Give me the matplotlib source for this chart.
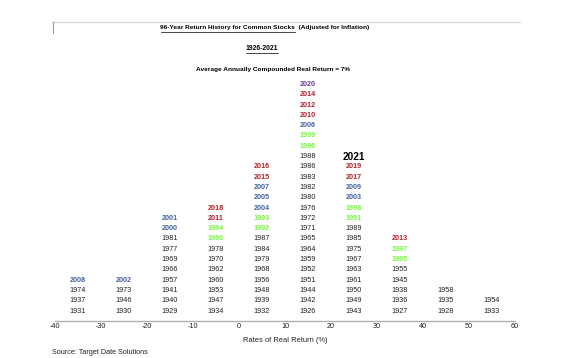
import matplotlib
matplotlib.use("Agg")
import matplotlib.pyplot as plt
from matplotlib.lines import Line2D

plt.rcParams['font.family'] = ['Liberation Sans', 'DejaVu Sans']
plt.rcParams['axes.unicode_minus'] = False

# ---- data ----
bin_edges = [-40, -30, -20, -10, 0, 10, 20, 30, 40, 50, 60]
bin_centers = [-35, -25, -15, -5, 5, 15, 25, 35, 45, 55]
years_m40_m30 = [1931, 1937, 1974, 2008]
years_m30_m20 = [1930, 1946, 1973, 2002]
years_m20_m10 = [1929, 1940, 1941, 1957, 1966, 1969, 1977, 1981, 2000, 2001]
years_m10_0 = [1934, 1947, 1953, 1960, 1962, 1970, 1978, 1990, 1994, 2011, 2018]
years_0_10 = [1932, 1939, 1948, 1956, 1968, 1979, 1984, 1987, 1992, 1993,
              2004, 2005, 2007, 2015, 2016]
years_10_20 = [1926, 1942, 1944, 1951, 1952, 1959, 1964, 1965, 1971, 1972,
               1976, 1980, 1982, 1983, 1986, 1988, 1996, 1999, 2006, 2010,
               2012, 2014, 2020]
years_20_30 = [1943, 1949, 1950, 1961, 1963, 1967, 1975, 1985, 1989, 1991,
               1998, 2003, 2009, 2017, 2019, 2021]
years_30_40 = [1927, 1936, 1938, 1945, 1955, 1995, 1997, 2013]
years_40_50 = [1928, 1935, 1958]
years_50_60 = [1933, 1954]
columns = [years_m40_m30, years_m30_m20, years_m20_m10, years_m10_0, years_0_10,
           years_10_20, years_20_30, years_30_40, years_40_50, years_50_60]
current_year = 2021

title1a = "96-Year Return History for Common Stocks"
title1b = "  (Adjusted for Inflation)"
title2 = "1926-2021"
title3 = "Average Annually Compounded Real Return = 7%"
xlabel = "Rates of Real Return (%)"
source = "Source: Target Date Solutions"

decade_colors = {1990: '#80f050', 2000: '#45659c', 2010: '#b0232b', 2020: '#6a3d9a'}

W, H = 570, 358
fig = plt.figure(figsize=(W / 100, H / 100), dpi=100)

def fx(px):
    return px / W

def fy(py):
    return 1 - py / H

ax_left, ax_right, ax_bottom, ax_top = 55, 515, 321, 22
ax = fig.add_axes([fx(ax_left), fy(ax_bottom), fx(ax_right - ax_left),
                   (ax_bottom - ax_top) / H])
row_px = 10.3
ax.set_xlim(bin_edges[0], bin_edges[-1])
ax.set_ylim(-0.97, (ax_bottom - ax_top) / row_px - 0.97)

for xc, yrs in zip(bin_centers, columns):
    for i, yr in enumerate(yrs):
        if yr == current_year:
            ax.text(xc, i, str(yr), ha='center', va='center', fontsize=7.2,
                    fontweight='bold', color='black')
            continue
        dec = (yr // 10) * 10
        if dec in decade_colors:
            ax.text(xc, i, str(yr), ha='center', va='center', fontsize=5.2,
                    fontweight='bold', color=decade_colors[dec])
        else:
            ax.text(xc, i, str(yr), ha='center', va='center', fontsize=5.2,
                    color='#222222')

for s in ['left', 'right', 'top']:
    ax.spines[s].set_visible(False)
ax.spines['bottom'].set_color('#b0b0b0')
ax.spines['bottom'].set_linewidth(1.0)
ax.set_xticks(bin_edges)
ax.set_xticklabels([str(e) for e in bin_edges])
ax.tick_params(axis='x', length=0, pad=1.5, labelsize=5.2, colors='#222222')
ax.set_yticks([])
ax.set_xlabel(xlabel, fontsize=5.4, color='#222222', labelpad=5)

# frame line at top
fig.add_artist(Line2D([fx(52), fx(520)], [fy(22), fy(22)], color='#d8d8d8', lw=1.0))
fig.add_artist(Line2D([fx(53), fx(53)], [fy(22), fy(33)], color='#999999', lw=0.8))

# titles
fig.canvas.draw()
r = fig.canvas.get_renderer()
ta = fig.text(0, fy(28), title1a, fontsize=4.65, fontweight='bold', va='center', ha='left')
tb = fig.text(0, fy(28), title1b, fontsize=4.65, fontweight='bold', va='center', ha='left')
wa = ta.get_window_extent(r).width
wb = tb.get_window_extent(r).width
x0 = 265 - (wa + wb) / 2
ta.set_x(fx(x0))
tb.set_x(fx(x0 + wa))
fig.add_artist(Line2D([fx(x0), fx(x0 + wa)], [fy(32), fy(32)], color='black', lw=0.5))

t2 = fig.text(fx(262), fy(49), title2, fontsize=4.9, fontweight='bold', va='center', ha='center')
w2 = t2.get_window_extent(r).width
fig.add_artist(Line2D([fx(262 - w2 / 2), fx(262 + w2 / 2)], [fy(53), fy(53)], color='black', lw=0.5))

fig.text(fx(273), fy(70), title3, fontsize=4.65, fontweight='bold', va='center', ha='center')
fig.text(fx(52), fy(352), source, fontsize=5.2, color='#222222', va='center', ha='left')

fig.savefig('out.png', dpi=100, facecolor='white')
